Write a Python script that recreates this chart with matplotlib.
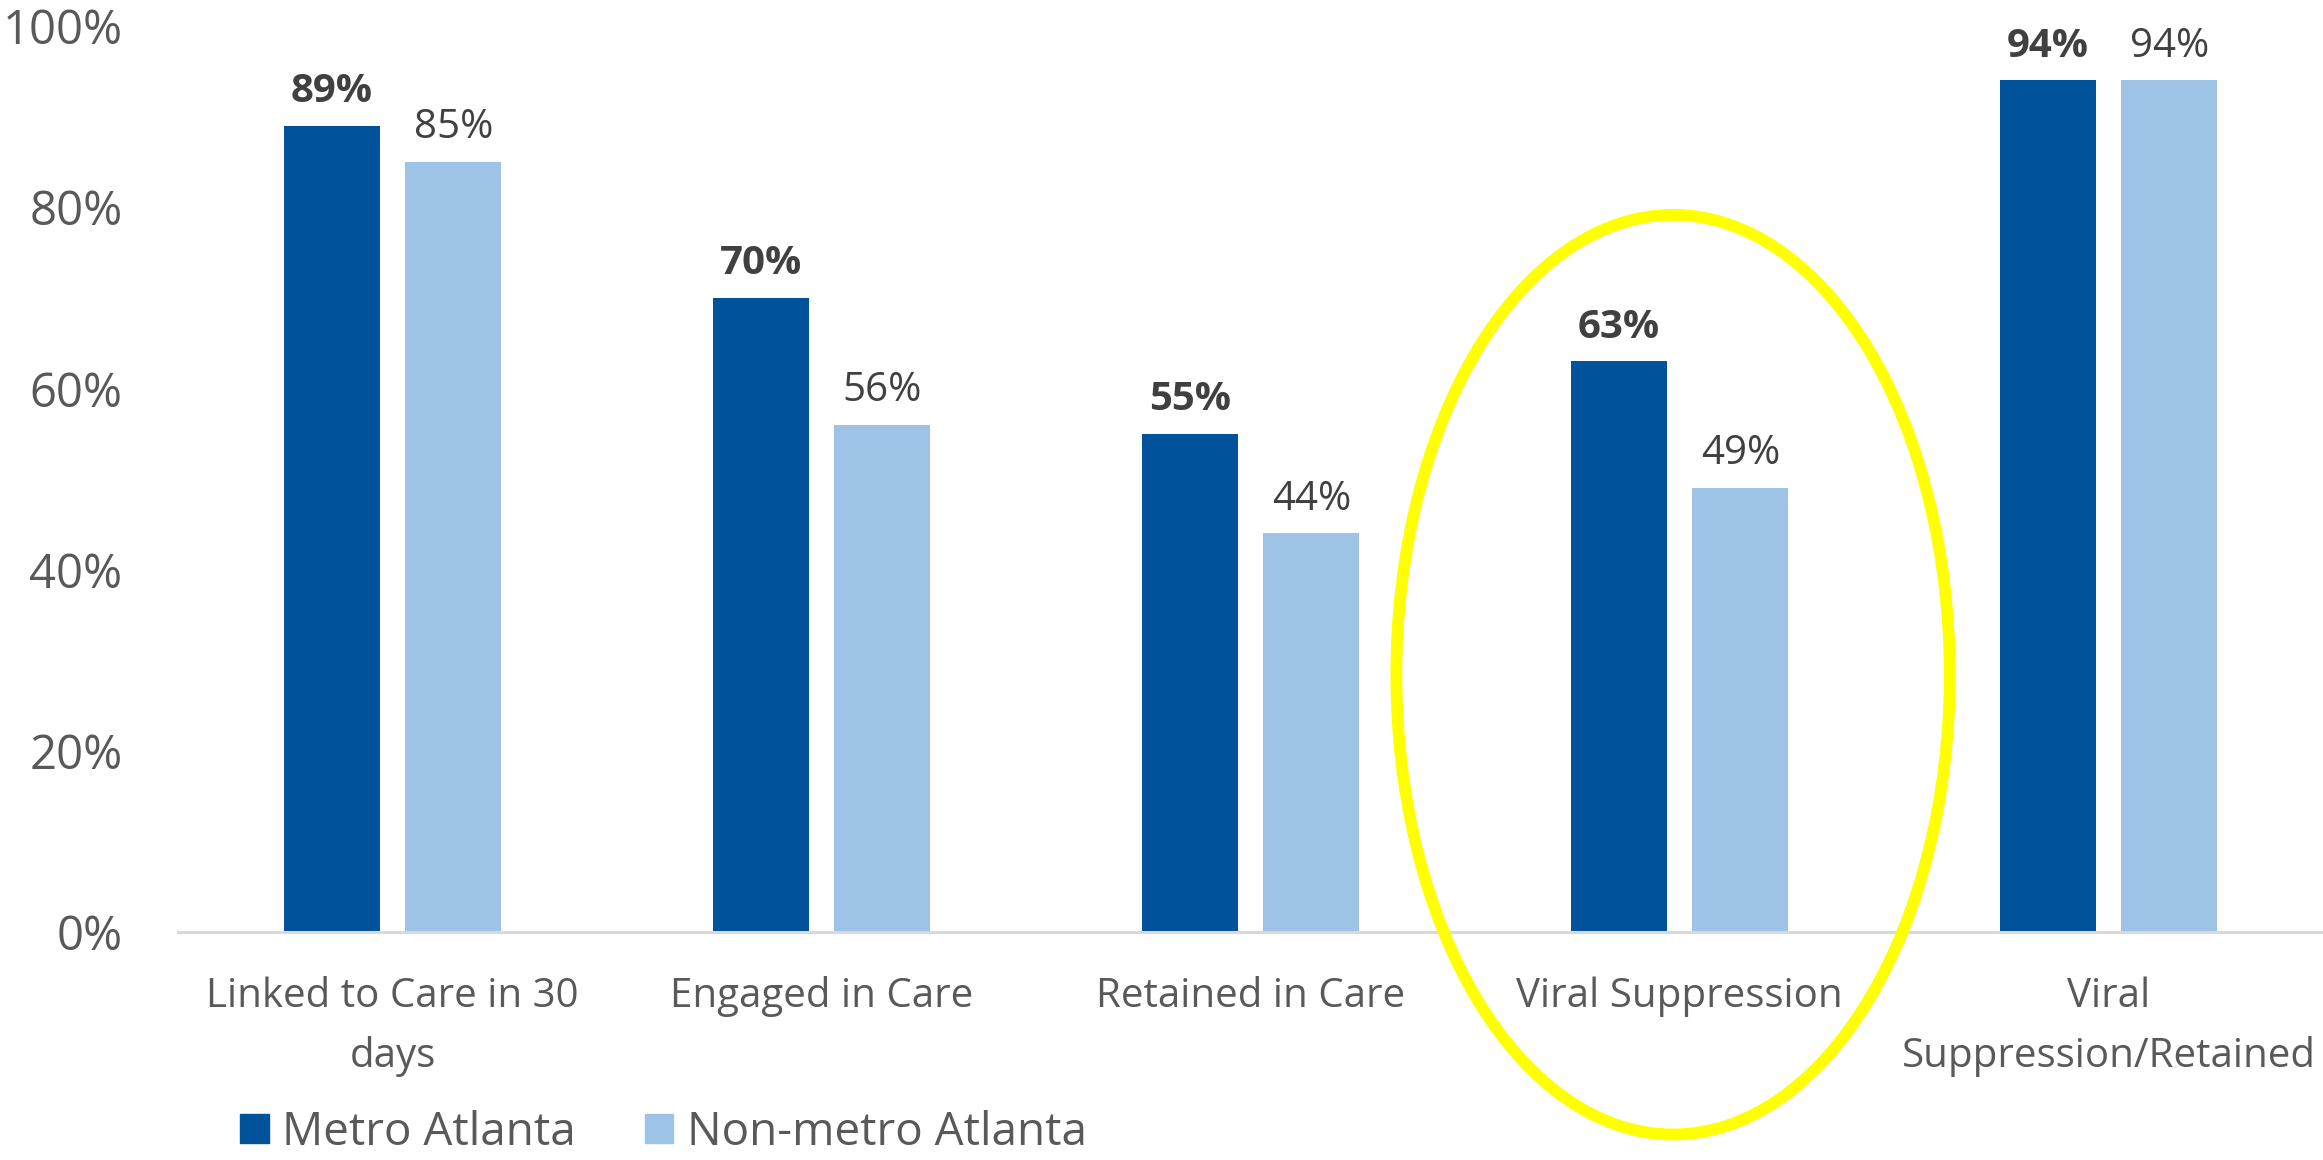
import numpy as np
import matplotlib.pyplot as plt
from matplotlib.patches import Ellipse, Patch

plt.rcParams['font.family'] = ['Open Sans', 'DejaVu Sans']

categories = ['Linked to Care in 30\ndays', 'Engaged in Care', 'Retained in Care',
              'Viral Suppression', 'Viral\nSuppression/Retained']
metro = [89, 70, 55, 63, 94]
non_metro = [85, 56, 44, 49, 94]
series_names = ['Metro Atlanta', 'Non-metro Atlanta']

dark = '#00529B'
light = '#9DC3E6'
grey = '#595959'

fig = plt.figure(figsize=(23.23, 11.6), dpi=100)
ax = fig.add_axes([178 / 2323, 1 - 932 / 1160, 1 - 178 / 2323, 906 / 1160])

x = np.arange(len(categories))
w = 0.224
off = 0.142
ax.bar(x - off, metro, w, color=dark, zorder=2)
ax.bar(x + off, non_metro, w, color=light, zorder=2)

for xi, v in zip(x, metro):
    ax.annotate(f'{v}%', (xi - off, v), xytext=(0, 17), textcoords='offset points',
                ha='center', va='baseline', fontsize=29, fontweight='bold', color='#404040')
for xi, v in zip(x, non_metro):
    ax.annotate(f'{v}%', (xi + off, v), xytext=(0, 17), textcoords='offset points',
                ha='center', va='baseline', fontsize=29, color='#404040')

ax.set_xlim(-0.5, 4.5)
ax.set_ylim(0, 100)
ax.set_yticks(np.arange(0, 101, 20))
ax.set_yticklabels([f'{t}%' for t in range(0, 101, 20)], fontsize=34, color=grey)
ax.set_xticks(x)
ax.set_xticklabels(categories, fontsize=29, color=grey, linespacing=1.6)
ax.tick_params(axis='y', length=0, pad=40)
ax.tick_params(axis='x', length=0, pad=32)
for s in ['top', 'right', 'left']:
    ax.spines[s].set_visible(False)
ax.spines['bottom'].set_color('#D9D9D9')
ax.spines['bottom'].set_linewidth(2.2)

# highlight ring around the viral suppression pair
ring = Ellipse((2.985, 28.4), 1.29, 101.5, fill=False, edgecolor='#FFFF00',
               linewidth=8.5, clip_on=False, zorder=3)
ax.add_patch(ring)

handles = [Patch(color=dark), Patch(color=light)]
fig.legend(handles, series_names, loc='lower left', bbox_to_anchor=(222 / 2323, -0.012),
           frameon=False, fontsize=33, labelcolor=grey, ncol=2,
           handlelength=0.62, handleheight=0.62, handletextpad=0.3,
           columnspacing=1.5, borderaxespad=0)

fig.savefig('out.png', dpi=100)
